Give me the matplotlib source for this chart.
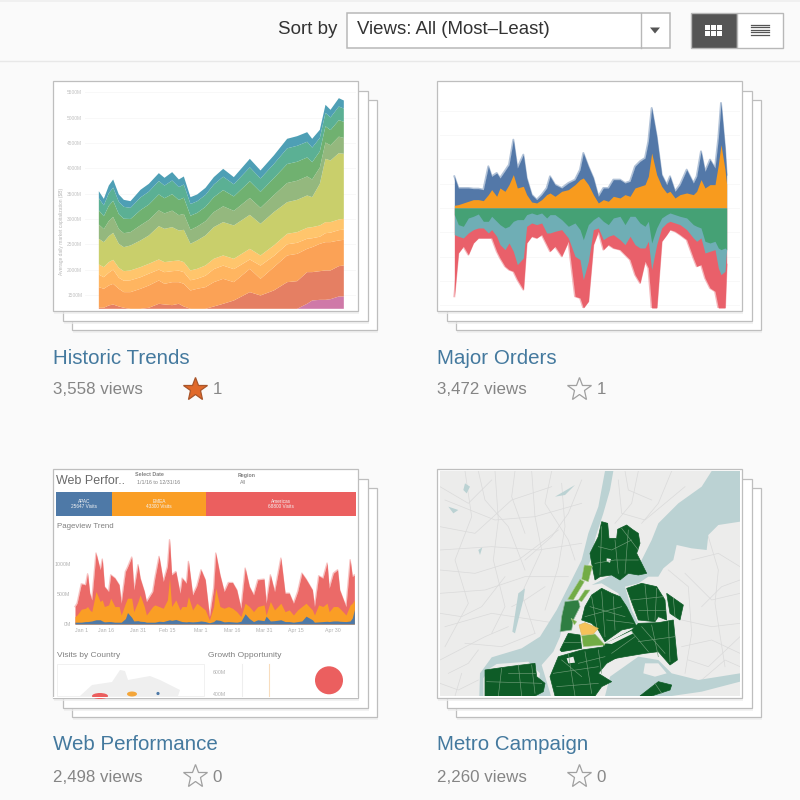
import matplotlib
matplotlib.use("Agg")
import matplotlib.pyplot as plt
from matplotlib.patches import Rectangle, Polygon, Circle, Ellipse

plt.rcParams['font.family'] = ['Liberation Sans', 'DejaVu Sans']

# --- DATA ---

card_titles = ["Historic Trends", "Major Orders", "Web Performance", "Metro Campaign"]
card_views = ["3,558 views", "3,472 views", "2,498 views", "2,260 views"]
card_stars = ["1", "1", "0", "0"]

# Historic Trends: cumulative boundaries of the stack (M)
hist_x = [0, 15, 30, 43, 60, 75, 95, 125, 150, 180, 197, 220, 240, 255, 275, 295, 320, 345, 373, 405, 453, 485, 525, 565, 595, 625, 640, 663, 680, 695, 720, 735]
hist_base = [1237] * 32
hist_pink = [1237] * 25 + [1336, 1401, 1414, 1414, 1427, 1480, 1480]
hist_red = [1257, 1257, 1303, 1322, 1283, 1257, 1237, 1237, 1257, 1336, 1322, 1309, 1336, 1283, 1237, 1237, 1237, 1283, 1336, 1401, 1566, 1500, 1599, 1763, 1783, 1961, 1961, 1980, 1994, 1994, 2079, 2092]
hist_orange = [1665, 1632, 1697, 1730, 1632, 1566, 1566, 1632, 1697, 1796, 1730, 1763, 1763, 1730, 1599, 1632, 1665, 1763, 1829, 1763, 2026, 1829, 2059, 2290, 2322, 2421, 2454, 2520, 2553, 2553, 2586, 2599]
hist_lorange = [1912, 1860, 1950, 2010, 1850, 1790, 1800, 1860, 1930, 2010, 1960, 1980, 1990, 1960, 1800, 1830, 1890, 2020, 2090, 2020, 2210, 2090, 2280, 2510, 2540, 2620, 2630, 2660, 2730, 2740, 2790, 2800]
hist_yellow = [2112, 2059, 2158, 2204, 2046, 1980, 1994, 2059, 2125, 2211, 2158, 2178, 2191, 2158, 1994, 2026, 2092, 2224, 2290, 2224, 2421, 2290, 2487, 2717, 2750, 2836, 2849, 2882, 2948, 2948, 3000, 3013]
hist_olive = [2619, 2553, 2671, 2737, 2520, 2454, 2487, 2586, 2684, 2869, 2816, 2849, 2783, 2796, 2520, 2586, 2684, 2849, 2948, 2882, 3092, 2915, 3145, 3342, 3388, 3474, 3441, 3704, 4198, 4165, 4310, 4297]
hist_sage = [2900, 2810, 2970, 3050, 2810, 2730, 2750, 2885, 2990, 3180, 3120, 3175, 3085, 3110, 2795, 2860, 2965, 3145, 3260, 3170, 3425, 3230, 3480, 3720, 3765, 3850, 3790, 4025, 4520, 4465, 4635, 4610]
hist_green = [3180, 3065, 3270, 3370, 3105, 3015, 3010, 3185, 3295, 3495, 3420, 3500, 3385, 3430, 3075, 3130, 3250, 3440, 3580, 3455, 3755, 3545, 3815, 4095, 4140, 4225, 4130, 4345, 4840, 4765, 4960, 4930]
hist_teal = [3420, 3280, 3520, 3630, 3350, 3250, 3230, 3435, 3550, 3760, 3670, 3770, 3640, 3690, 3305, 3360, 3485, 3690, 3845, 3695, 4030, 3810, 4095, 4405, 4455, 4535, 4420, 4610, 5105, 5015, 5230, 5190]
hist_blue = [3559, 3408, 3671, 3790, 3494, 3388, 3362, 3586, 3704, 3915, 3823, 3935, 3790, 3849, 3441, 3494, 3625, 3836, 4000, 3836, 4198, 3968, 4264, 4593, 4645, 4724, 4593, 4770, 5264, 5165, 5395, 5349]
hist_colors = ['#CF79A8', '#E57F63', '#FBA256', '#FFB560', '#FFC56C', '#C9CF6B', '#94B87E', '#70B170', '#5BB094', '#4E9FB5']
hist_ticks = [1500, 2000, 2500, 3000, 3500, 4000, 4500, 5000, 5500]

# Major Orders: above and below the zero line
ord_x = [88, 100, 115, 130, 145, 160, 175, 190, 200, 215, 225, 240, 252, 265, 277, 295, 305, 320, 335, 350, 365, 375, 390, 410, 430, 450, 465, 475, 490, 505, 520, 535, 550, 565, 585, 600, 615, 630, 645, 660, 670, 680, 695, 710, 725, 735, 750, 765, 785, 805, 815, 828, 840, 855, 870, 880, 888, 900, 905]
ord_blue = [95, 60, 60, 60, 58, 58, 55, 125, 95, 105, 90, 112, 130, 205, 120, 160, 90, 40, 25, 40, 60, 95, 70, 60, 75, 85, 115, 165, 125, 90, 35, 60, 60, 85, 85, 75, 80, 125, 140, 150, 200, 300, 215, 100, 70, 95, 50, 70, 115, 75, 95, 170, 110, 145, 120, 210, 315, 180, 100]
ord_orange = [8, 10, 15, 20, 25, 25, 22, 40, 55, 35, 60, 50, 70, 100, 60, 65, 40, 18, 15, 25, 40, 45, 35, 50, 55, 70, 85, 90, 70, 40, 15, 25, 20, 35, 30, 40, 35, 60, 65, 70, 95, 165, 100, 65, 45, 50, 30, 40, 45, 40, 50, 85, 60, 70, 70, 130, 190, 115, 70]
ord_green = [20, 50, 55, 30, 25, 18, 40, 40, 25, 40, 50, 60, 55, 40, 35, 35, 20, 15, 20, 15, 30, 20, 20, 35, 55, 45, 65, 95, 50, 35, 25, 40, 50, 30, 25, 50, 25, 25, 45, 55, 40, 105, 60, 30, 20, 15, 20, 25, 30, 50, 55, 60, 100, 105, 100, 120, 125, 120, 125]
ord_teal = [80, 85, 90, 75, 65, 60, 60, 75, 65, 85, 110, 125, 105, 130, 170, 150, 55, 45, 50, 45, 75, 75, 70, 65, 90, 145, 155, 215, 160, 65, 60, 95, 85, 80, 95, 110, 85, 110, 120, 120, 100, 185, 110, 60, 45, 40, 45, 50, 65, 90, 100, 90, 135, 130, 125, 180, 200, 190, 125]
ord_red = [265, 135, 115, 140, 105, 90, 90, 90, 90, 130, 150, 175, 185, 190, 215, 245, 105, 85, 90, 80, 110, 130, 115, 145, 100, 265, 270, 300, 280, 110, 70, 125, 110, 120, 125, 140, 155, 200, 225, 160, 180, 300, 300, 100, 80, 65, 70, 80, 95, 150, 175, 170, 210, 240, 250, 300, 300, 300, 170]

# Web Performance
region_names = ["APAC", "EMEA", "Americas"]
region_visits = [25647, 43300, 68800]
region_colors = ['#4E79A7', '#FA9E25', '#EB5F5F']

web_day = [0, 1, 3, 5, 6, 7, 8, 10, 12, 13, 14, 16, 17, 19, 21, 22, 24, 25, 27, 28, 30, 31, 33, 34, 37, 38, 40, 42, 44, 45, 46, 48, 50, 51, 53, 54, 56, 58, 60, 62, 64, 66, 67, 69, 71, 73, 75, 77, 79, 81, 83, 85, 87, 90, 91, 93, 95, 98, 100, 102, 104, 106, 108, 110, 113, 114, 116, 118, 120, 121, 123, 125, 126, 129, 131, 132, 133]
web_red = [289, 345, 667, 651, 834, 512, 400, 1179, 901, 1079, 623, 539, 817, 762, 651, 345, 873, 945, 1112, 567, 984, 762, 539, 373, 539, 762, 1123, 706, 956, 1401, 817, 873, 512, 762, 678, 1040, 484, 634, 901, 734, 122, 595, 1179, 817, 539, 689, 689, 567, 261, 929, 623, 484, 734, 745, 345, 817, 539, 1095, 512, 512, 345, 539, 845, 745, 567, 289, 801, 762, 1012, 595, 845, 901, 567, 289, 1068, 790, 817]
web_orange = [122, 150, 245, 261, 290, 234, 205, 540, 373, 400, 290, 317, 428, 290, 290, 150, 345, 428, 428, 205, 373, 484, 290, 150, 290, 317, 290, 261, 400, 762, 290, 400, 234, 290, 290, 456, 234, 345, 290, 234, 67, 290, 595, 290, 261, 290, 261, 205, 122, 345, 290, 205, 290, 317, 150, 373, 234, 345, 205, 234, 150, 234, 290, 345, 234, 150, 317, 290, 345, 205, 290, 290, 261, 150, 317, 345, 400]
web_blue = [30, 30, 30, 40, 40, 45, 50, 70, 70, 50, 35, 40, 40, 30, 30, 30, 90, 190, 110, 50, 55, 45, 40, 30, 30, 30, 45, 40, 60, 70, 60, 75, 50, 40, 35, 40, 35, 40, 50, 40, 20, 40, 70, 60, 35, 40, 35, 30, 45, 170, 90, 40, 70, 55, 130, 50, 55, 70, 40, 40, 30, 40, 50, 130, 70, 30, 35, 40, 45, 40, 50, 50, 45, 40, 50, 100, 240]
web_tick_days = [3, 15, 30, 44, 60, 75, 90, 105, 123]
web_tick_labels = ["Jan 1", "Jan 16", "Jan 31", "Feb 15", "Mar 1", "Mar 16", "Mar 31", "Apr 15", "Apr 30"]

# Metro Campaign map outlines
water_hudson = [(540, 33), (565, 33), (555, 90), (535, 160), (512, 230), (497, 300), (475, 345), (445, 410), (418, 470), (405, 530), (385, 575), (350, 615), (378, 708), (335, 708), (345, 640), (310, 605), (215, 612), (195, 625), (175, 655), (175, 708), (163, 708), (165, 640), (200, 592), (290, 565), (345, 530), (395, 450), (430, 380), (470, 300), (490, 220), (520, 140)]
water_sound = [(860, 33), (945, 33), (945, 185), (880, 195), (850, 225), (845, 270), (800, 265), (755, 255), (745, 300), (715, 325), (700, 350), (670, 350), (640, 320), (680, 240), (700, 190), (760, 130), (830, 80)]
water_east = [(640, 320), (670, 350), (640, 370), (600, 380), (620, 450), (640, 490), (610, 490), (580, 400), (530, 370), (500, 375), (560, 345), (610, 340)]
water_south = [(555, 650), (640, 590), (700, 600), (740, 640), (820, 660), (945, 640), (945, 665), (830, 695), (740, 708), (540, 708)]
water_creeks = [[(120, 70), (135, 80), (125, 100), (115, 90)], [(70, 140), (100, 150), (85, 160)], [(390, 110), (450, 75), (420, 105)], [(280, 400), (300, 385), (295, 420), (270, 520), (262, 515)], [(160, 270), (172, 262), (165, 285)]]
island_south = [(660, 610), (700, 610), (725, 640), (690, 650), (655, 640)]
green_bronx = [(530, 185), (548, 190), (552, 235), (575, 235), (578, 208), (605, 195), (622, 208), (640, 220), (645, 250), (635, 280), (650, 310), (665, 340), (640, 345), (610, 340), (585, 360), (560, 345), (525, 350), (510, 360), (500, 310), (495, 280), (520, 230)]
green_queens_nw = [(470, 480), (480, 440), (500, 405), (530, 385), (560, 400), (585, 410), (605, 440), (635, 500), (590, 510), (540, 545), (520, 510), (500, 490)]
green_queens_e = [(605, 385), (650, 370), (695, 380), (720, 420), (725, 480), (700, 470), (690, 485), (640, 480), (625, 440)]
green_bayside = [(725, 400), (775, 435), (765, 480), (735, 460)]
green_queens_s = [(535, 555), (620, 510), (640, 490), (700, 488), (745, 480), (757, 600), (735, 615), (700, 575), (660, 580), (600, 590), (545, 600)]
green_brooklyn = [(400, 590), (470, 570), (540, 560), (590, 585), (545, 610), (520, 640), (560, 665), (530, 680), (510, 708), (390, 708), (375, 650)]
green_jersey = [(405, 570), (430, 520), (465, 525), (470, 565), (410, 575)]
green_staten = [(180, 630), (250, 620), (330, 610), (335, 650), (360, 670), (355, 695), (330, 708), (180, 708)]
green_rockaway = [(645, 708), (700, 665), (740, 675), (735, 690), (680, 708)]
mid_harlem = [(420, 425), (460, 420), (465, 440), (445, 480), (440, 510), (405, 515), (410, 470)]
light_upper = [(478, 315), (502, 318), (490, 365), (470, 358)]
light_west = [(465, 358), (478, 365), (445, 420), (428, 418)]
light_east = [(480, 390), (495, 390), (470, 425), (460, 420)]
light_midtown = [(438, 475), (455, 485), (448, 495)]
light_south = [(470, 527), (510, 522), (540, 555), (475, 560)]
yellow_core = [(462, 495), (480, 488), (520, 505), (505, 522), (470, 525)]
holes = [[(540, 550), (620, 512), (625, 520), (560, 552)], [(425, 595), (445, 590), (450, 608), (430, 610)], [(545, 295), (558, 297), (555, 308), (545, 305)]]
district_lines = [
    [(520, 260), (560, 270), (620, 240)], [(510, 310), (570, 300), (640, 300)], [(570, 240), (580, 340)], [(610, 210), (600, 340)], [(530, 200), (525, 345)], [(590, 205), (640, 270)],
    [(495, 440), (600, 470)], [(530, 395), (540, 530)], [(480, 470), (590, 440)], [(565, 410), (570, 510)], [(500, 410), (515, 500)], [(545, 480), (625, 490)],
    [(620, 420), (715, 410)], [(660, 375), (670, 480)], [(640, 450), (720, 450)], [(695, 385), (690, 480)],
    [(620, 515), (670, 575)], [(680, 495), (700, 590)], [(640, 545), (750, 530)], [(560, 580), (630, 530)], [(730, 485), (735, 605)], [(650, 500), (720, 580)],
    [(385, 640), (520, 620)], [(430, 580), (450, 708)], [(480, 575), (500, 700)], [(395, 680), (520, 670)], [(520, 570), (530, 640)], [(410, 600), (470, 650)], [(460, 610), (540, 590)],
    [(230, 625), (220, 708)], [(280, 615), (290, 708)], [(185, 665), (350, 670)], [(320, 615), (330, 700)], [(250, 640), (330, 640)],
    [(690, 670), (710, 700)], [(745, 415), (750, 470)], [(420, 470), (460, 450)], [(415, 545), (465, 545)],
]
road_lines = [
    [(60, 120), (210, 180), (330, 170), (470, 130)], [(45, 270), (200, 260), (340, 270), (470, 250)], [(45, 400), (180, 390), (300, 350), (430, 350)],
    [(210, 33), (220, 180), (205, 300), (240, 440), (200, 520)], [(320, 33), (330, 170), (350, 270), (290, 400), (330, 520)], [(120, 33), (140, 170), (90, 300), (130, 430), (60, 560)],
    [(45, 200), (150, 220), (260, 120), (380, 80)], [(60, 500), (200, 460), (330, 480), (395, 490)], [(45, 600), (180, 530), (250, 500)],
    [(410, 70), (420, 200), (400, 320), (360, 450)], [(470, 60), (430, 160), (380, 230), (300, 300)], [(580, 60), (590, 160), (660, 180), (780, 80)],
    [(640, 33), (620, 130), (570, 190)], [(740, 33), (700, 130), (650, 190)], [(780, 340), (860, 420), (945, 400)], [(770, 480), (860, 500), (945, 490)],
    [(770, 560), (860, 540), (945, 580)], [(850, 230), (880, 330), (870, 430), (900, 620)], [(730, 330), (790, 380), (800, 520), (780, 640)], [(830, 660), (900, 600), (945, 620)],
    [(120, 550), (230, 560), (330, 520)], [(260, 440), (300, 420), (360, 380)], [(45, 330), (150, 340), (280, 300), (400, 210)], [(45, 460), (110, 470), (170, 440), (240, 350)],
    [(160, 33), (180, 120), (250, 200), (300, 330)], [(270, 33), (260, 110), (300, 220)], [(45, 80), (130, 130), (200, 60)], [(380, 33), (360, 130), (430, 240), (450, 300)],
    [(70, 640), (130, 610), (160, 570)], [(45, 670), (100, 690), (160, 660)], [(90, 708), (110, 640)], [(800, 300), (880, 280), (945, 320)], [(830, 440), (890, 380), (945, 360)],
    [(790, 600), (850, 620), (945, 530)], [(600, 33), (610, 90), (680, 120)],
]

# --- LAYOUT ---

fig = plt.figure(figsize=(8, 8), dpi=100, facecolor='#FAFAFA')
ax = fig.add_axes([0, 0, 1, 1])
ax.set_xlim(0, 800)
ax.set_ylim(800, 0)
ax.axis('off')


def panel(left, top, right, bottom):
    """Axes placed by pixel box on the 800x800 canvas"""
    a = fig.add_axes([left / 800, 1 - bottom / 800, (right - left) / 800, (bottom - top) / 800])
    a.patch.set_alpha(0)
    for s in a.spines.values():
        s.set_visible(False)
    return a


def draw_card(x0, y0, w, h, title, views, stars, filled):
    for off in (19, 9.5, 0):
        ax.add_patch(Rectangle((x0 + off + 1, y0 + off + 3), w, h, fc='#EDEDED', ec='none', alpha=0.7))
        ax.add_patch(Rectangle((x0 + off, y0 + off), w, h, fc='white', ec='#BEBEBE', lw=0.9))
    ax.text(x0, y0 + h + 47, title, color='#44799E', fontsize=14.8, va='center', ha='left')
    ax.text(x0, y0 + h + 79, views, color='#858585', fontsize=12.2, va='center', ha='left')
    if filled:
        ax.plot(x0 + 142, y0 + h + 78, marker='*', ms=18, mfc='#E0692A', mec='#A8552A', mew=0.9)
    else:
        ax.plot(x0 + 142, y0 + h + 78, marker='*', ms=18, mfc='none', mec='#A0A0A0', mew=0.9)
    ax.text(x0 + 164, y0 + h + 79, stars, color='#888888', fontsize=12.2, va='center', ha='center')


draw_card(53, 81, 305, 230, card_titles[0], card_views[0], card_stars[0], True)
draw_card(437, 81, 305, 230, card_titles[1], card_views[1], card_stars[1], False)
draw_card(53, 469, 305, 229, card_titles[2], card_views[2], card_stars[2], False)
draw_card(437, 469, 305, 229, card_titles[3], card_views[3], card_stars[3], False)

# --- HEADER ---

ax.plot([0, 800], [0.5, 0.5], color='#EFEFEF', lw=1.2)
ax.plot([0, 800], [60.5, 60.5], color='#E8E8E8', lw=1.0)
ax.text(337, 29, "Sort by", color='#333333', fontsize=13.5, ha='right', va='center')
ax.add_patch(Rectangle((347, 13), 323, 35, fc='white', ec='#B8B8B8', lw=1.1))
ax.plot([641, 641], [13, 48], color='#B8B8B8', lw=1.0)
ax.text(357, 29, "Views: All (Most\u2013Least)", color='#333333', fontsize=13.4, ha='left', va='center')
ax.add_patch(Polygon([(650, 27.5), (660, 27.5), (655, 33.5)], fc='#555555', ec='none'))
ax.add_patch(Rectangle((691, 13), 46, 35, fc='#555555', ec='#B8B8B8', lw=1.0))
ax.add_patch(Rectangle((737, 13), 46, 35, fc='white', ec='#B8B8B8', lw=1.0))
for gx in (705, 711, 717):
    for gy in (25, 31):
        ax.add_patch(Rectangle((gx, gy), 5, 5, fc='white', ec='none'))
for ly in (24.5, 27, 29.5, 32, 34.5):
    ax.plot([751, 769], [ly, ly], color='#555555', lw=0.9)

# --- HISTORIC TRENDS ---

a1 = panel(85, 88.3, 356, 308.3)
a1.set_xlim(-40, 773)
a1.set_ylim(1237, 5580)
hist_layers = [hist_base, hist_pink, hist_red, hist_orange, hist_lorange, hist_yellow, hist_olive, hist_sage, hist_green, hist_teal, hist_blue]
for i in range(len(hist_colors)):
    a1.fill_between(hist_x, hist_layers[i], hist_layers[i + 1], color=hist_colors[i], lw=0, zorder=3)
a1.set_xticks([])
a1.set_yticks(hist_ticks)
a1.set_yticklabels([f"{v}M" for v in hist_ticks], fontsize=3.5, color='#C0C0C0')
a1.tick_params(axis='y', length=0, pad=2)
a1.grid(axis='y', color='#F8F8F8', lw=0.7)
a1.set_axisbelow(True)
ax.text(62, 231, "Average daily market capitalization ($B)", rotation=90, fontsize=3.5, color='#B5B5B5', ha='center', va='center')

# --- MAJOR ORDERS ---

a2 = panel(440, 83.3, 740, 308.3)
a2.set_xlim(45, 945)
a2.set_ylim(-301, 374)
a2.fill_between(ord_x, 0, ord_blue, color='#5378A8', lw=0, zorder=3)
a2.plot(ord_x, ord_blue, color='#5378A8', lw=1.4, alpha=0.45, zorder=3)
a2.fill_between(ord_x, 0, ord_orange, color='#F89B1E', lw=0, zorder=4)
a2.fill_between(ord_x, 0, [-v for v in ord_red], color='#E9606A', lw=0, zorder=3)
a2.plot(ord_x, [-v for v in ord_red], color='#E9606A', lw=1.4, alpha=0.45, zorder=3)
a2.fill_between(ord_x, 0, [-v for v in ord_teal], color='#6FAEB5', lw=0, zorder=4)
a2.fill_between(ord_x, 0, [-v for v in ord_green], color='#45A175', lw=0, zorder=5)
a2.set_xticks([])
a2.set_yticks([-292, -219, -146, -73, 0, 73, 146, 219, 292])
a2.set_yticklabels([])
a2.tick_params(axis='y', length=0)
a2.grid(axis='y', color='#F8F8F8', lw=0.7)
a2.set_axisbelow(True)

# --- WEB PERFORMANCE ---

ax.text(56, 481, "Web Perfor..", color='#6A6A6A', fontsize=9, ha='left', va='center')
ax.text(135, 475, "Select Date", color='#808080', fontsize=3.8, fontweight='bold', ha='left', va='center')
ax.text(137, 482.5, "1/1/16 to 12/31/16", color='#808080', fontsize=3.8, ha='left', va='center')
ax.text(238, 475, "Region", color='#808080', fontsize=3.8, fontweight='bold', ha='left', va='center')
ax.text(240, 482, "All", color='#808080', fontsize=3.8, ha='left', va='center')

a3b = panel(56, 492, 355.5, 516)
a3b.set_xlim(0, sum(region_visits))
a3b.set_ylim(0, 1)
a3b.axis('off')
left = 0
for name, visits, col in zip(region_names, region_visits, region_colors):
    a3b.barh(0.5, visits, left=left, height=1, color=col, lw=0)
    a3b.text(left + visits / 2, 0.5, f"{name}\n{visits} Visits", color='#F4F4F4', fontsize=3.4, ha='center', va='center')
    left += visits

ax.text(57, 527, "Pageview Trend", color='#808080', fontsize=5.7, ha='left', va='center')
a3 = panel(73.3, 538, 355, 625)
a3.set_xlim(-0.8, 133.3)
a3.set_ylim(-17, 1429)
a3.fill_between(web_day, 0, web_red, color='#EB6A68', lw=0, zorder=3)
a3.plot(web_day, web_red, color='#EB6A68', lw=1.0, alpha=0.4, zorder=3)
a3.fill_between(web_day, 0, web_orange, color='#FA9E25', lw=0, zorder=4)
a3.fill_between(web_day, 0, web_blue, color='#4E79A7', lw=0, zorder=5)
a3.set_yticks([0, 500, 1000])
a3.set_yticklabels(["0M", "500M", "1000M"], fontsize=3.8, color='#B0B0B0')
a3.set_xticks(web_tick_days)
a3.set_xticklabels(web_tick_labels, fontsize=3.8, color='#B0B0B0')
a3.tick_params(length=0, pad=2)

ax.text(57, 655.5, "Visits by Country", color='#808080', fontsize=6, ha='left', va='center')
ax.text(208, 655.5, "Growth Opportunity", color='#808080', fontsize=6, ha='left', va='center')
ax.add_patch(Rectangle((56.5, 664), 147, 32, fc='white', ec='#EFEFEF', lw=0.6))
ax.add_patch(Polygon([(80, 696), (92, 685), (112, 682), (120, 670), (125, 671), (128, 680), (150, 676), (160, 680), (180, 690), (178, 696)], fc='#EFEFEF', ec='none'))
ax.add_patch(Ellipse((100, 696), 16, 6, fc='#EB5F5F', ec='none'))
ax.add_patch(Ellipse((132, 694), 10, 5, fc='#F4A63A', ec='none'))
ax.add_patch(Circle((158, 693.5), 1.6, fc='#4E79A7', ec='none'))
ax.text(226, 672, "600M", color='#B0B0B0', fontsize=3.8, ha='right', va='center')
ax.text(226, 695, "400M", color='#B0B0B0', fontsize=3.8, ha='right', va='center')
ax.plot([241.5, 241.5], [664, 696], color='#EEEEEE', lw=0.8)
ax.plot([268.5, 268.5], [664, 696], color='#F8DDBE', lw=0.8)
ax.add_patch(Circle((329, 680.3), 14, fc='#EB5F5F', ec='none'))
ax.add_patch(Rectangle((53, 696.5), 305, 1.5, fc='white', ec='none'))

# --- METRO CAMPAIGN ---

a4 = panel(440, 471, 740, 696)
a4.patch.set_alpha(1)
a4.set_facecolor('#ECECEB')
a4.set_xlim(45, 945)
a4.set_ylim(708, 33)
a4.set_xticks([])
a4.set_yticks([])
for r in road_lines:
    a4.plot([p[0] for p in r], [p[1] for p in r], color='#DADADA', lw=0.5, zorder=1)
for w in [water_hudson, water_sound, water_east, water_south] + water_creeks:
    a4.add_patch(Polygon(w, fc='#BBD2D3', ec='none', zorder=2))
a4.add_patch(Polygon(island_south, fc='#ECECEB', ec='none', zorder=2))
for g in (green_bronx, green_queens_nw, green_queens_e, green_bayside, green_queens_s, green_brooklyn, green_jersey, green_staten, green_rockaway):
    a4.add_patch(Polygon(g, fc='#0E5C27', ec='#0E5C27', lw=0.5, zorder=3))
for h in holes:
    a4.add_patch(Polygon(h, fc='#ECECEB', ec='none', zorder=4))
for d in district_lines:
    a4.plot([p[0] for p in d], [p[1] for p in d], color='#6F9C78', lw=0.45, zorder=4)
a4.add_patch(Polygon(mid_harlem, fc='#2F7E42', ec='#8DB597', lw=0.5, zorder=5))
for l in (light_upper, light_west, light_east, light_midtown, light_south):
    a4.add_patch(Polygon(l, fc='#72AC45', ec='#A8C890', lw=0.4, zorder=5))
a4.add_patch(Polygon(yellow_core, fc='#F6C25A', ec='#D9B860', lw=0.4, zorder=6))

fig.savefig("out.png", dpi=100, facecolor=fig.get_facecolor())
